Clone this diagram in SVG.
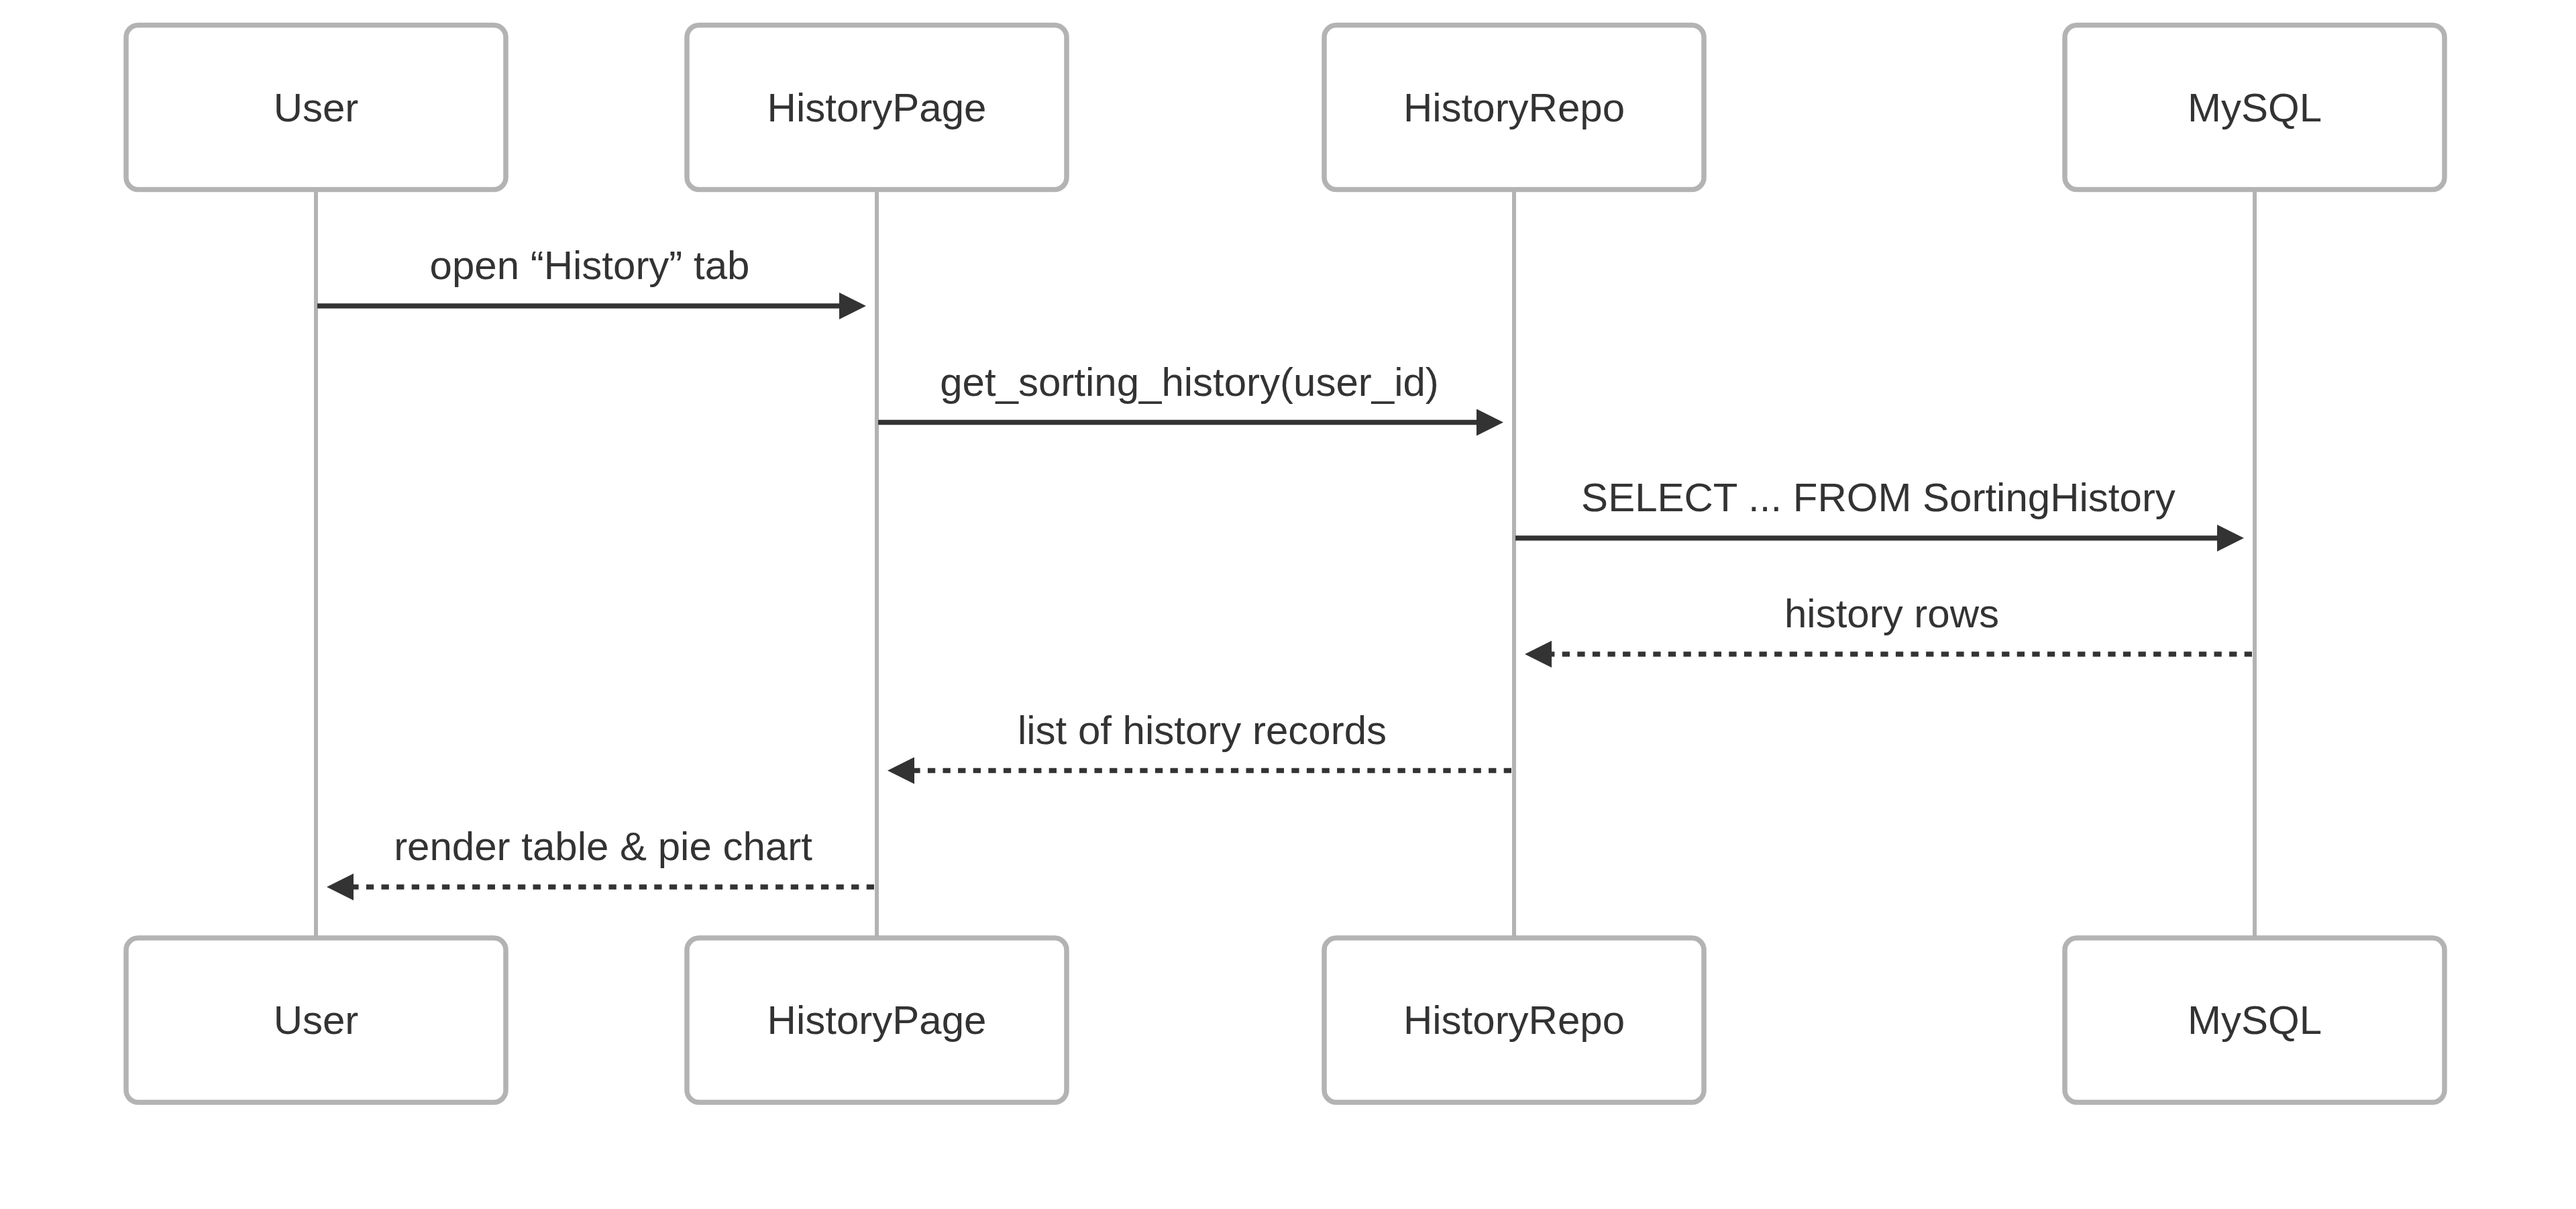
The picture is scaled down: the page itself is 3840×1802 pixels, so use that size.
<svg xmlns="http://www.w3.org/2000/svg" width="3840" height="1802" viewBox="0 0 3840 1802">
<style>
.actor rect{fill:#ffffff;stroke:#b3b3b3;stroke-width:7.5}
.actor text{font-family:"Liberation Sans",Arial,sans-serif;font-size:60px;fill:#333333;text-anchor:middle;dominant-baseline:central}
.lifeline{stroke:#b3b3b3;stroke-width:6}
.msg{stroke:#333333;stroke-width:7.5;fill:none}
.dashed{stroke-dasharray:11.3 11.3}
.label{font-family:"Liberation Sans",Arial,sans-serif;font-size:60px;fill:#333333;text-anchor:middle}
</style>
<defs>
<marker id="arrow" markerUnits="userSpaceOnUse" markerWidth="40" markerHeight="40" viewBox="0 0 40 40" refX="20" refY="20" orient="auto">
<path d="M0,0 L40,20 L0,40 z" fill="#333333" stroke="none"/>
</marker>
</defs>
<rect width="3840" height="1802" fill="#ffffff"/>
<g id="lifelines">
<line class="lifeline" x1="471" y1="282" x2="471" y2="1398"/>
<line class="lifeline" x1="1307" y1="282" x2="1307" y2="1398"/>
<line class="lifeline" x1="2257" y1="282" x2="2257" y2="1398"/>
<line class="lifeline" x1="3361" y1="282" x2="3361" y2="1398"/>
</g>
<g id="node-user-top" class="actor"><rect x="188" y="37.5" width="566" height="245" rx="18" ry="18"/><text x="471" y="160">User</text></g>
<g id="node-historypage-top" class="actor"><rect x="1024" y="37.5" width="566" height="245" rx="18" ry="18"/><text x="1307" y="160">HistoryPage</text></g>
<g id="node-historyrepo-top" class="actor"><rect x="1974" y="37.5" width="566" height="245" rx="18" ry="18"/><text x="2257" y="160">HistoryRepo</text></g>
<g id="node-mysql-top" class="actor"><rect x="3078" y="37.5" width="566" height="245" rx="18" ry="18"/><text x="3361" y="160">MySQL</text></g>
<g id="node-user-bottom" class="actor"><rect x="188" y="1398" width="566" height="245" rx="18" ry="18"/><text x="471" y="1520.5">User</text></g>
<g id="node-historypage-bottom" class="actor"><rect x="1024" y="1398" width="566" height="245" rx="18" ry="18"/><text x="1307" y="1520.5">HistoryPage</text></g>
<g id="node-historyrepo-bottom" class="actor"><rect x="1974" y="1398" width="566" height="245" rx="18" ry="18"/><text x="2257" y="1520.5">HistoryRepo</text></g>
<g id="node-mysql-bottom" class="actor"><rect x="3078" y="1398" width="566" height="245" rx="18" ry="18"/><text x="3361" y="1520.5">MySQL</text></g>
<g id="connectors">
<line class="msg" x1="473" y1="456" x2="1271" y2="456" marker-end="url(#arrow)"/>
<text class="label" x="879" y="416">open “History” tab</text>
<line class="msg" x1="1309" y1="629.5" x2="2221" y2="629.5" marker-end="url(#arrow)"/>
<text class="label" x="1773" y="589.5">get_sorting_history(user_id)</text>
<line class="msg" x1="2259" y1="802" x2="3325" y2="802" marker-end="url(#arrow)"/>
<text class="label" x="2800" y="762">SELECT ... FROM SortingHistory</text>
<line class="msg dashed" x1="3357" y1="975" x2="2293" y2="975" marker-end="url(#arrow)"/>
<text class="label" x="2820" y="935">history rows</text>
<line class="msg dashed" x1="2253" y1="1148.5" x2="1343" y2="1148.5" marker-end="url(#arrow)"/>
<text class="label" x="1792" y="1108.5">list of history records</text>
<line class="msg dashed" x1="1303" y1="1322" x2="507" y2="1322" marker-end="url(#arrow)"/>
<text class="label" x="899" y="1282">render table &amp; pie chart</text>
</g>
</svg>
